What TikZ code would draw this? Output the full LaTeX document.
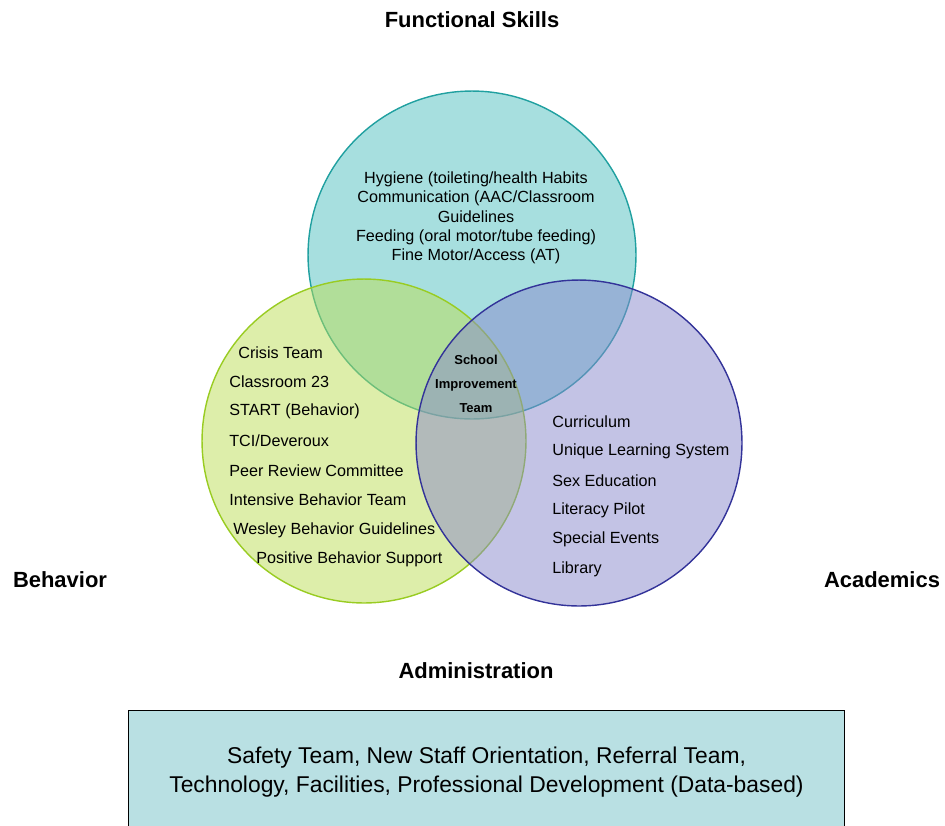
\documentclass[tikz,border=0pt]{standalone}
\usepackage{fontspec}
\setmainfont{Liberation Sans}
\usepackage{xcolor}
\usetikzlibrary{positioning}

\definecolor{funcfill}{HTML}{4FC0C0}
\definecolor{funcline}{HTML}{20A0A0}
\definecolor{behfill}{HTML}{BBDD55}
\definecolor{behline}{HTML}{99CC22}
\definecolor{acadfill}{HTML}{8888CC}
\definecolor{acadline}{HTML}{333399}
\definecolor{adminfill}{HTML}{B9E0E3}

\begin{document}
\begin{tikzpicture}[x=0.02cm, y=-0.02cm,
    area/.style={circle, fill opacity=0.5, line width=0.8pt},
    heading/.style={font=\fontsize{12.5}{15}\selectfont\bfseries},
    item/.style={anchor=west, inner sep=0pt, font=\fontsize{9.2}{11}\selectfont},
    core/.style={align=center, font=\fontsize{7.4}{13.6}\selectfont\bfseries}
]
\clip (0,0) rectangle (945,825);

% Circles
\node[area, draw=funcline, fill=funcfill, minimum size=6.56cm] (func) at (472,255) {};
\node[area, draw=behline, fill=behfill, minimum size=6.48cm] (beh) at (364,441) {};
\node[area, draw=acadline, fill=acadfill, minimum size=6.52cm] (acad) at (579,443) {};

% Headings
\node[heading] (functitle) at (472,20) {Functional Skills};
\node[heading] (behtitle) at (60,580) {Behavior};
\node[heading] (acadtitle) at (882,580) {Academics};
\node[heading] (admintitle) at (476,671) {Administration};

% Functional skills
\node[align=center, font=\fontsize{9.2}{11}\selectfont] (functext) at (476,218) {
    Hygiene (toileting/health Habits\\
    Communication (AAC/Classroom\\
    Guidelines\\
    Feeding (oral motor/tube feeding)\\
    Fine Motor/Access (AT)
};

% Behavior
\node[item] (b1) at (238,353) {Crisis Team};
\node[item] (b2) at (229,382) {Classroom 23};
\node[item] (b3) at (229,411) {START (Behavior)};
\node[item] (b4) at (229,441) {TCI/Deveroux};
\node[item] (b5) at (229,471) {Peer Review Committee};
\node[item] (b6) at (229,500) {Intensive Behavior Team};
\node[item] (b7) at (233,530) {Wesley Behavior Guidelines};
\node[item] (b8) at (256,559) {Positive Behavior Support};

% Academics
\node[item] (a1) at (552,422) {Curriculum};
\node[item] (a2) at (552,451) {Unique Learning System};
\node[item] (a3) at (552,481) {Sex Education};
\node[item] (a4) at (552,510) {Literacy Pilot};
\node[item] (a5) at (552,539) {Special Events};
\node[item] (a6) at (552,569) {Library};

% Center
\node[core] (sit) at (476,384) {School\\Improvement\\Team};

% Administration box
\node[draw=black, fill=adminfill, line width=0.6pt, minimum width=14.34cm, minimum height=2.48cm,
      align=center, font=\fontsize{13}{16.5}\selectfont] (admin) at (486.5,772) {
    Safety Team, New Staff Orientation, Referral Team,\\
    Technology, Facilities, Professional Development (Data-based)
};

\end{tikzpicture}
\end{document}
